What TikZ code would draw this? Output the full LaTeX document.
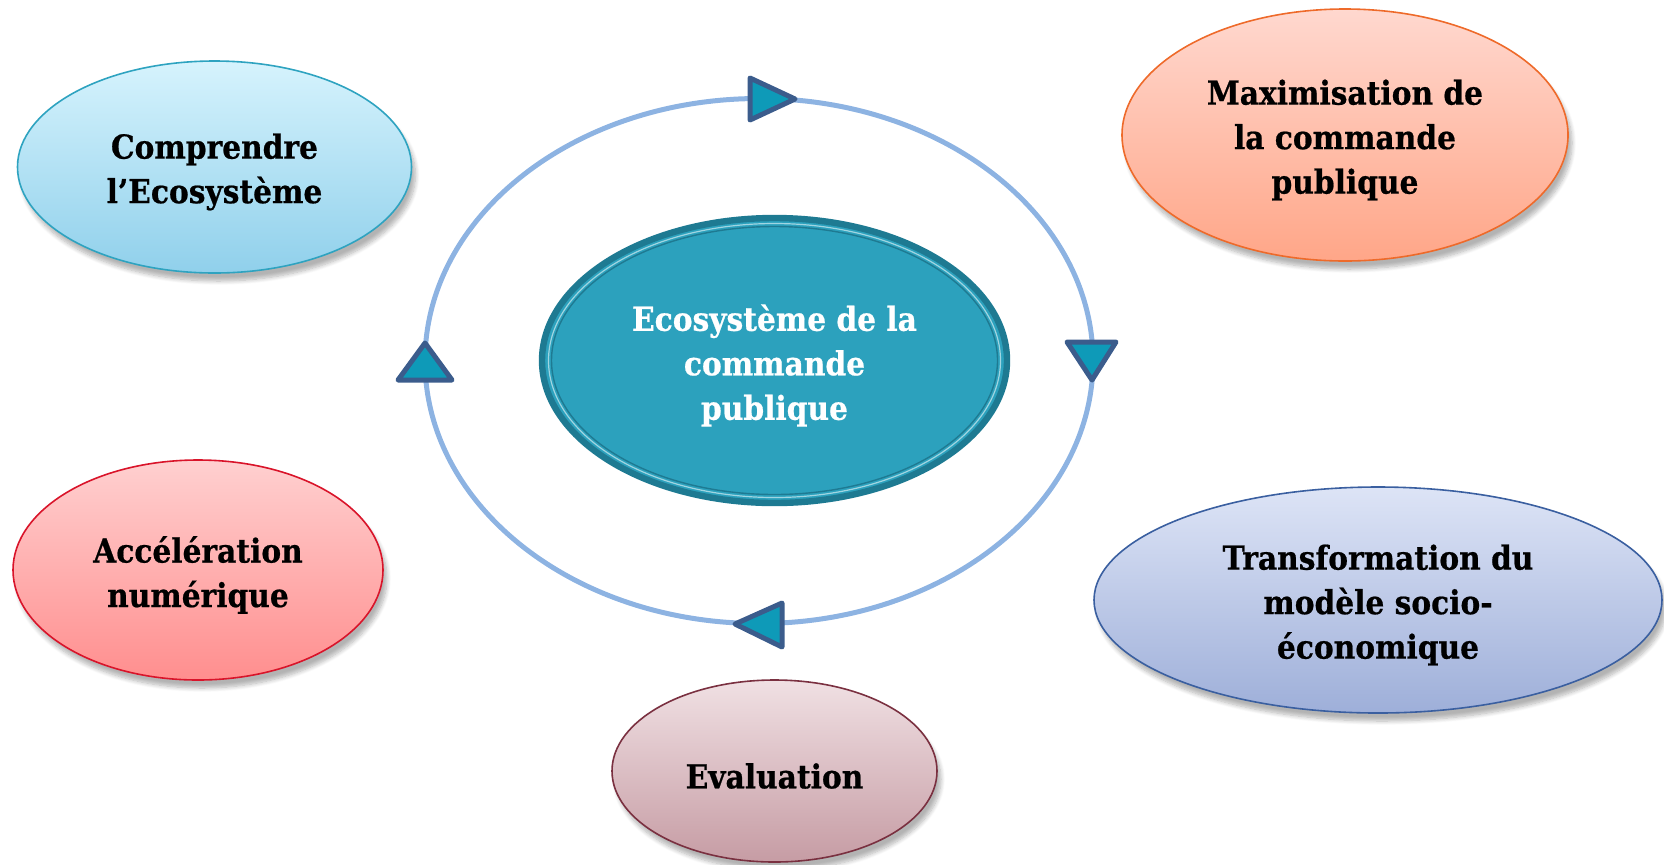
\documentclass[tikz,border=0pt]{standalone}
\usepackage{fontspec}
\setmainfont{DejaVu Serif Condensed}[BoldFont={DejaVu Serif Condensed Bold},BoldFeatures={FakeBold=0.6}]
\usetikzlibrary{shapes.geometric,shadows.blur}
\definecolor{ringc}{HTML}{8DB3E2}
\definecolor{trifill}{HTML}{0E9AB8}
\definecolor{tridraw}{HTML}{3B5C8C}
\definecolor{ecofill}{HTML}{2CA1BD}
\definecolor{ecodraw}{HTML}{1E7A92}
\definecolor{compT}{HTML}{D6F3FD}\definecolor{compB}{HTML}{90D0EB}\definecolor{compD}{HTML}{2EA3C0}
\definecolor{maxT}{HTML}{FFD8CF}\definecolor{maxB}{HTML}{FFA688}\definecolor{maxD}{HTML}{EE6A2A}
\definecolor{accT}{HTML}{FFD0D0}\definecolor{accB}{HTML}{FF8E8E}\definecolor{accD}{HTML}{D9142A}
\definecolor{evT}{HTML}{F0E0E3}\definecolor{evB}{HTML}{C69CA4}\definecolor{evD}{HTML}{7A3040}
\definecolor{trT}{HTML}{DDE4F6}\definecolor{trB}{HTML}{9EAFD9}\definecolor{trD}{HTML}{3A5FA0}
\tikzset{
  bubble/.style n args={3}{ellipse, inner sep=0pt, top color=#1, bottom color=#2, draw=#3, line width=0.8pt,
     blur shadow={shadow xshift=2pt, shadow yshift=-4pt, shadow opacity=30, shadow blur steps=8}},
  label text/.style={font=\bfseries\fontsize{16.5}{22.25}\selectfont, align=center, text=black, yshift=-2.5pt},
  tri/.style={fill=trifill, draw=tridraw, line width=2.5pt, line join=round},
  ring/.style={draw=ringc, line width=2.5pt},
}
\begin{document}
\begin{tikzpicture}[x=0.5pt,y=-0.5pt]
\useasboundingbox (0,0) rectangle (1664,864);
% ring
\draw[ring] (759,361) ellipse [x radius=334pt*0.5, y radius=262.5pt*0.5];
% central
\node[ellipse, minimum width=465pt*0.5, minimum height=285pt*0.5, fill=ecofill, draw=ecodraw, line width=3.2pt] (eco) at (774.5,360.5) {};
\draw[ecodraw, line width=0.7pt] (eco.center) ellipse [x radius=223pt*0.5, y radius=134pt*0.5];
\draw[white!55!ecofill, line width=0.6pt] (eco.center) ellipse [x radius=226pt*0.5, y radius=137pt*0.5];
\node[label text, text=white] (ecot) at (eco.center) {Ecosystème de la\\commande\\publique};
% bubbles
\node[bubble={compT}{compB}{compD}, minimum width=394pt*0.5, minimum height=212pt*0.5] (comp) at (214.5,167) {};
\node[label text] (compt) at (comp.center) {Comprendre\\l’Ecosystème};
\node[bubble={maxT}{maxB}{maxD}, minimum width=446pt*0.5, minimum height=252pt*0.5] (maxi) at (1345,135) {};
\node[label text] (maxit) at (maxi.center) {Maximisation de\\la commande\\publique};
\node[bubble={accT}{accB}{accD}, minimum width=370pt*0.5, minimum height=220pt*0.5] (acc) at (198,570) {};
\node[label text] (acct) at (acc.center) {Accélération\\numérique};
\node[bubble={evT}{evB}{evD}, minimum width=325pt*0.5, minimum height=182pt*0.5] (eval) at (774.5,771) {};
\node[label text] (evalt) at (eval.center) {Evaluation};
\node[bubble={trT}{trB}{trD}, minimum width=568pt*0.5, minimum height=226pt*0.5] (trans) at (1378,600) {};
\node[label text] (transt) at (trans.center) {Transformation du\\modèle socio-\\économique};
% triangles on the ring
\draw[tri] (795,99) -- (750,78) -- (750,120) -- cycle;
\draw[tri] (1067,342) -- (1116,342) -- (1092,380) -- cycle;
\draw[tri] (425,343) -- (398,380) -- (452,380) -- cycle;
\draw[tri] (735,624) -- (782,603) -- (782,647) -- cycle;
\end{tikzpicture}
\end{document}
